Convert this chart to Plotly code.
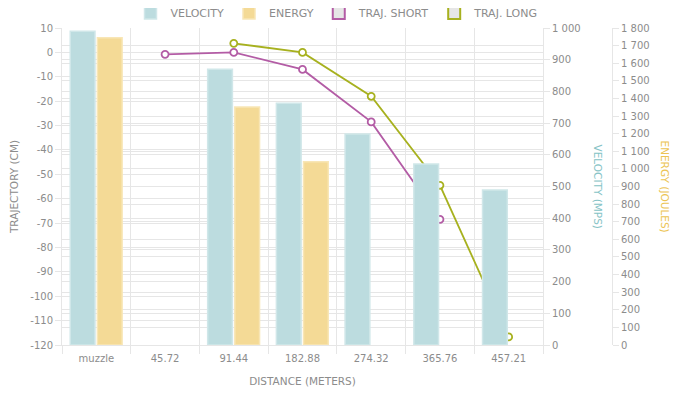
import plotly.graph_objects as go

categories = ["muzzle", "45.72", "91.44", "182.88", "274.32", "365.76", "457.21"]
velocity = [990, None, 870, 763, 666, 571, 489]
energy = [1745, None, 1352, 1040, None, None, None]
traj_short = [None, -0.8, 0, -7, -28.5, -68.5, None]
traj_long = [None, None, 3.7, 0, -18, -54.5, -116.7]

left_ticks = list(range(10, -121, -10))
left_ticktext = [str(v) for v in left_ticks]

FONT = "DejaVu Sans"
FS = 10
TFS = 10.5
GREY = "#8c8c8c"
GRID = "#e6e6e6"
VEL_FILL, VEL_LINE = "#bcdcdf", "#d0e7e9"
EN_FILL, EN_LINE = "#f4da96", "#f8e6b6"
SHORT_C = "#b35ca5"
LONG_C = "#a7b11f"

fig = go.Figure()

fig.add_trace(go.Bar(name="VELOCITY", x=categories, y=velocity, yaxis="y2",
                     offset=-0.38, width=0.36,
                     marker=dict(color=VEL_FILL, line=dict(color=VEL_LINE, width=1.5))))
fig.add_trace(go.Bar(name="ENERGY", x=categories, y=energy, yaxis="y3",
                     offset=0.015, width=0.36,
                     marker=dict(color=EN_FILL, line=dict(color=EN_LINE, width=1.5))))
fig.add_trace(go.Scatter(name="TRAJ. SHORT", x=categories, y=traj_short, yaxis="y",
                         mode="lines+markers", showlegend=False,
                         line=dict(color=SHORT_C, width=1.8),
                         marker=dict(symbol="circle", size=7, color="white",
                                     line=dict(color=SHORT_C, width=1.8))))
fig.add_trace(go.Scatter(name="TRAJ. LONG", x=categories, y=traj_long, yaxis="y",
                         mode="lines+markers", showlegend=False,
                         line=dict(color=LONG_C, width=1.8),
                         marker=dict(symbol="circle", size=7, color="white",
                                     line=dict(color=LONG_C, width=1.8))))
# legend entries for the line series (box style like the reference)
for nm, c in [("TRAJ. SHORT", SHORT_C), ("TRAJ. LONG", LONG_C)]:
    fig.add_trace(go.Bar(name=nm, x=[None], y=[None], yaxis="y2",
                         marker=dict(color="#e6e6e6", line=dict(color=c, width=2))))

PW = 550
xdom_end = (543 - 62) / PW

fig.update_layout(
    width=671, height=388,
    margin=dict(l=54, r=67, t=20, b=51, autoexpand=False),
    paper_bgcolor="white", plot_bgcolor="white",
    font=dict(family=FONT, size=FS, color=GREY),
    separators=". ",
    showlegend=True,
    legend=dict(orientation="h", x=0.5, xanchor="center", y=1 - 5 / 388, yref="container",
                yanchor="middle", font=dict(size=11, color=GREY),
                itemwidth=30, traceorder="normal"),
    xaxis=dict(domain=[0, xdom_end], type="category", tickson="boundaries",
               showgrid=True, gridcolor=GRID, ticks="outside", ticklen=8,
               tickcolor=GRID, showline=True, linecolor=GRID, automargin=False,
               ticklabelstandoff=4,
               title=dict(text="DISTANCE (METERS)", font=dict(size=TFS, color=GREY), standoff=14)),
    yaxis=dict(range=[-120, 10], tickvals=left_ticks, ticktext=left_ticktext,
               showgrid=True, gridcolor=GRID, zeroline=False, automargin=False,
               ticks="outside", ticklen=6, tickcolor=GRID, showline=True, linecolor=GRID,
               title=dict(text="TRAJECTORY (CM)", font=dict(size=TFS, color=GREY), standoff=10)),
    yaxis2=dict(range=[0, 1000], dtick=100, overlaying="y", side="right", anchor="x",
                showgrid=True, gridcolor=GRID, zeroline=False, separatethousands=True,
                automargin=False,
                ticks="outside", ticklen=6, tickcolor=GRID, showline=True, linecolor=GRID),
    yaxis3=dict(range=[0, 1800], dtick=100, overlaying="y", side="right", anchor="free",
                position=1.0, showgrid=True, gridcolor=GRID, zeroline=False,
                separatethousands=True, automargin=False,
                ticks="outside", ticklen=6, tickcolor=GRID, showline=True, linecolor=GRID),
    annotations=[
        dict(text="VELOCITY (MPS)", xref="paper", yref="paper", x=(598 - 62) / PW, y=0.5,
             xanchor="center", yanchor="middle",
             textangle=90, showarrow=False, font=dict(size=TFS, color="#86c3c6")),
        dict(text="ENERGY (JOULES)", xref="paper", yref="paper", x=(665 - 62) / PW, y=0.5,
             xanchor="center", yanchor="middle",
             textangle=90, showarrow=False, font=dict(size=TFS, color="#ecc453")),
    ],
)

fig.write_html("out.html")
